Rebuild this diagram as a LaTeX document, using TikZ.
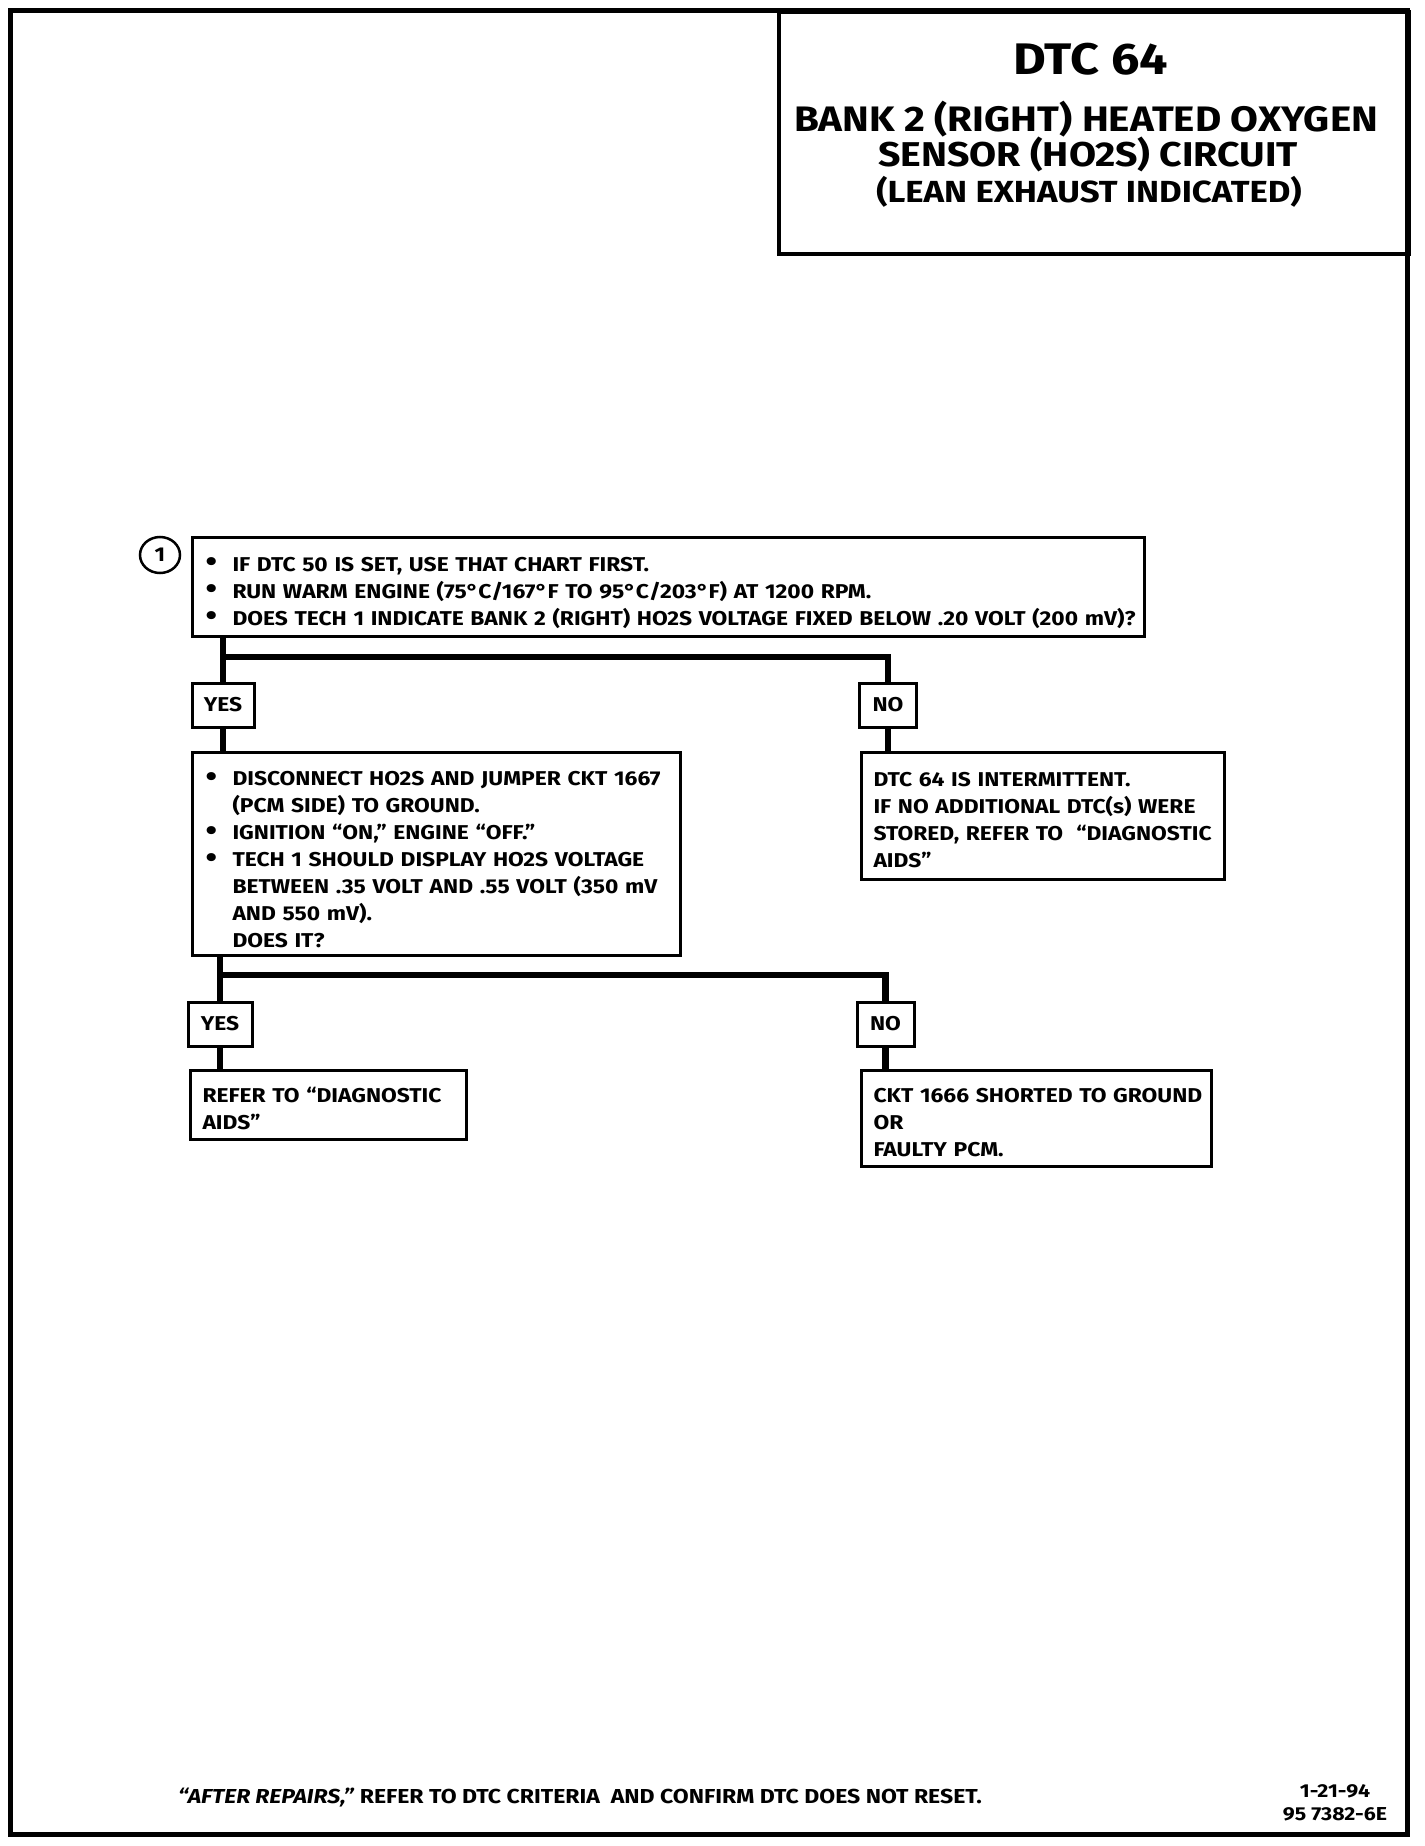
\documentclass[tikz,border=0pt]{standalone}
\usepackage{fontspec}
\setmainfont{Fira Sans}[FakeStretch=1.14]
\usetikzlibrary{shapes.geometric}
\newcommand{\bodyfont}{\fontsize{20}{27}\selectfont\bfseries}
\newcommand{\bul}{\makebox[27pt][l]{\raisebox{-0.5pt}{\scalebox{1.45}{\textbullet}}}}
\newcommand{\ind}{\hspace*{27pt}}
\newcommand{\tstrut}[1]{\rule{0pt}{#1}}
\begin{document}
\begin{tikzpicture}[x=1pt,y=-1pt,
  box/.style={draw, line width=3pt, anchor=north west, inner xsep=13pt, inner ysep=0pt, align=left, font=\bodyfont},
  lab/.style={draw, line width=3pt, inner sep=0pt, font=\bodyfont, minimum height=44pt},
  conn/.style={line width=6.5pt},
  ttl/.style={anchor=base, inner sep=0pt, font=\bfseries},
  small/.style={anchor=base, inner sep=0pt, font=\fontsize{20.2}{24}\selectfont\bfseries}
]
\useasboundingbox (0,0) rectangle (1424,1846);
% outer frame
\draw[line width=5pt] (10.5,10.5) rectangle (1407,1834);
% title block
\node[draw, line width=4pt, anchor=north west, minimum width=630pt, minimum height=241pt, inner sep=0pt] (title) at (777,10.5) {};
\node[ttl, font=\fontsize{44.2}{50}\selectfont\bfseries] (t1) at (1091,75) {DTC 64};
\node[ttl, font=\fontsize{35.4}{40}\selectfont\bfseries] (t2) at (1086,132) {BANK 2 (RIGHT) HEATED OXYGEN};
\node[ttl, font=\fontsize{34.4}{40}\selectfont\bfseries] (t3) at (1088,167) {SENSOR (HO2S) CIRCUIT};
\node[ttl, font=\fontsize{30.5}{34}\selectfont\bfseries] (t4) at (1089,202) {(LEAN EXHAUST INDICATED)};

% step 1
\node[ellipse, draw, line width=2.5pt, minimum width=40pt, minimum height=36pt, inner sep=0pt, font=\bodyfont] (c1) at (160,555) {1};
\node[box, minimum width=952pt, minimum height=99pt, text width=926pt] (b1) at (191,536)
  {\tstrut{26pt}\bul IF DTC 50 IS SET, USE THAT CHART FIRST.\\
   \bul RUN WARM ENGINE (75°C/167°F TO 95°C/203°F) AT 1200 RPM.\\
   \bul\mbox{DOES TECH 1 INDICATE BANK 2 (RIGHT) HO2S VOLTAGE FIXED BELOW .20 VOLT (200 mV)?}};

\node[lab, minimum width=62pt] (yes1) at (223,705) {YES};
\node[lab, minimum width=57pt] (no1) at (888,705) {NO};

\node[box, minimum width=488pt, minimum height=203pt, text width=462pt] (b2) at (191,751)
  {\tstrut{26pt}\bul\mbox{DISCONNECT HO2S AND JUMPER CKT 1667}\\
   \ind (PCM SIDE) TO GROUND.\\
   \bul IGNITION “ON,” ENGINE “OFF.”\\
   \bul TECH 1 SHOULD DISPLAY HO2S VOLTAGE\\
   \ind\mbox{BETWEEN .35 VOLT AND .55 VOLT (350 mV}\\
   \ind AND 550 mV).\\
   \ind DOES IT?};

\node[box, inner xsep=12pt, minimum width=363pt, minimum height=127pt, text width=339pt] (b3) at (860,751)
  {\tstrut{22pt}DTC 64 IS INTERMITTENT.\\
   \mbox{IF NO ADDITIONAL DTC(s) WERE}\\
   \mbox{STORED, REFER TO\ \ “DIAGNOSTIC}\\
   AIDS”};

\node[lab, minimum width=64pt] (yes2) at (220,1024) {YES};
\node[lab, minimum width=57pt] (no2) at (885.5,1024) {NO};

\node[box, inner xsep=12pt, minimum width=276pt, minimum height=69pt, text width=252pt] (b4) at (189,1069)
  {\tstrut{22pt}\mbox{REFER TO “DIAGNOSTIC}\\
   AIDS”};

\node[box, inner xsep=12pt, minimum width=350pt, minimum height=96pt, text width=326pt] (b5) at (860,1069)
  {\tstrut{22pt}\mbox{CKT 1666 SHORTED TO GROUND}\\
   OR\\
   FAULTY PCM.};

% connectors
\coordinate (j1) at (223,657);
\draw[conn] (b1.south -| yes1) -- (yes1.north);
\draw[conn] (j1) -| (no1.north);
\draw[conn] (yes1.south) -- (yes1.south |- b2.north);
\draw[conn] (no1.south) -- (no1.south |- b3.north);

\coordinate (j2) at (220,975);
\draw[conn] (b2.south -| yes2) -- (yes2.north);
\draw[conn] (j2) -| (no2.north);
\draw[conn] (yes2.south) -- (yes2.south |- b4.north);
\draw[conn] (no2.south) -- (no2.south |- b5.north);

% footer
\node[small, anchor=base west] (foot) at (178,1803)
  {\textit{“AFTER REPAIRS,”} REFER TO DTC CRITERIA\ \ AND CONFIRM DTC DOES NOT RESET.};
\node[small, font=\fontsize{18.7}{22}\selectfont\bfseries] (date) at (1335,1797) {1-21-94};
\node[small, font=\fontsize{18.7}{22}\selectfont\bfseries] (code) at (1335,1820) {95 7382-6E};
\end{tikzpicture}
\end{document}
